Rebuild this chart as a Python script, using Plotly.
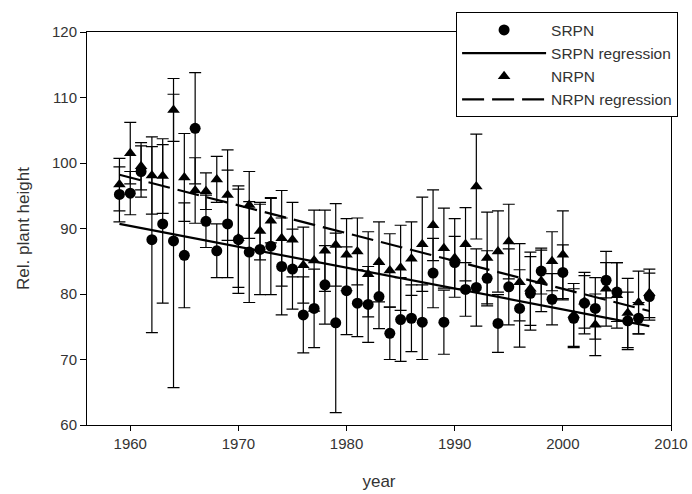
import plotly.graph_objects as go

years = list(range(1959, 2009))

srpn = [95.2, 95.4, 98.7, 88.3, 90.7, 88.1, 85.9, 105.3, 91.1, 86.6,
        90.7, 88.3, 86.4, 86.8, 87.3, 84.2, 83.8, 76.8, 77.8, 81.4,
        75.6, 80.5, 78.6, 78.4, 79.6, 74.0, 76.1, 76.3, 75.7, 83.2,
        75.7, 84.8, 80.7, 81.0, 82.4, 75.5, 81.1, 77.8, 80.1, 83.5,
        79.2, 83.3, 76.3, 78.6, 77.8, 82.1, 80.3, 75.9, 76.3, 79.6]
srpn_err = [4.2, 3.3, 3.9, 14.2, 12.1, 22.4, 8.0, 8.5, 4.0, 4.1,
            8.2, 8.2, 7.7, 6.9, 7.4, 7.4, 6.1, 5.8, 6.0, 6.0,
            13.7, 6.7, 5.1, 5.8, 4.9, 4.0, 6.4, 5.1, 5.7, 5.3,
            4.9, 4.0, 4.1, 5.9, 4.2, 4.4, 5.8, 5.9, 5.6, 3.5,
            3.9, 4.2, 4.5, 4.7, 4.7, 2.7, 4.5, 4.4, 2.4, 3.6]

nrpn = [96.7, 101.5, 99.5, 98.1, 98.0, 108.1, 97.8, 95.8, 95.7, 97.5,
        95.1, 88.5, 93.6, 89.6, 91.2, 88.5, 88.3, 84.4, 85.1, 86.6,
        87.5, 86.0, 86.5, 83.0, 84.9, 83.6, 84.0, 85.4, 87.6, 90.5,
        87.0, 85.5, 87.6, 96.4, 85.5, 86.5, 88.0, 81.8, 80.8, 82.0,
        85.0, 86.0, 76.8, 78.8, 75.3, 80.8, 79.8, 77.1, 78.7, 80.1]
nrpn_err = [4.0, 4.7, 3.6, 5.9, 5.7, 4.8, 6.7, 5.0, 2.8, 3.5,
            6.9, 7.5, 5.1, 4.4, 3.4, 7.3, 5.7, 5.8, 7.7, 6.2,
            6.3, 5.5, 5.1, 6.5, 6.1, 5.6, 6.5, 5.6, 7.2, 5.4,
            6.1, 6.0, 5.6, 8.0, 7.0, 6.2, 5.7, 5.9, 5.6, 4.7,
            4.5, 6.7, 4.8, 4.0, 4.7, 5.7, 5.0, 5.3, 4.8, 3.7]

reg_years = [1959, 2008]
srpn_reg = [90.7, 75.1]
nrpn_reg = [98.2, 77.4]

FONT = "Arial, Liberation Sans, sans-serif"
TXT = "#333333"

fig = go.Figure()
err_style = dict(type="data", thickness=1.2, width=6, color="black")

fig.add_trace(go.Scatter(
    x=years, y=srpn, mode="markers", name="SRPN",
    marker=dict(symbol="circle", size=11, color="black"),
    error_y=dict(array=srpn_err, **err_style), legendrank=1))
fig.add_trace(go.Scatter(
    x=reg_years, y=srpn_reg, mode="lines", name="SRPN regression",
    line=dict(color="black", width=2.2), legendrank=2))
fig.add_trace(go.Scatter(
    x=years, y=nrpn, mode="markers", name="NRPN",
    marker=dict(symbol="triangle-up", size=11, color="black"),
    error_y=dict(array=nrpn_err, **err_style), legendrank=3))
fig.add_trace(go.Scatter(
    x=reg_years, y=nrpn_reg, mode="lines", name="NRPN regression",
    line=dict(color="black", width=2.2, dash="22px,8px"), legendrank=4))

fig.update_layout(
    width=692, height=494,
    margin=dict(l=87, r=21, t=20, b=69),
    paper_bgcolor="white", plot_bgcolor="white",
    font=dict(family=FONT, color=TXT, size=13),
    showlegend=True,
    legend=dict(x=0.632, y=1.05, xanchor="left", yanchor="top",
                bgcolor="white", bordercolor="black", borderwidth=1,
                font=dict(size=15.5, color=TXT), itemwidth=84,
                traceorder="normal"),
    xaxis=dict(range=[1956, 2010], tickvals=[1960, 1970, 1980, 1990, 2000, 2010],
               showline=True, linecolor="black", linewidth=1, mirror=True,
               ticks="outside", ticklen=5, tickcolor="black",
               showgrid=False, zeroline=False, automargin=False,
               tickfont=dict(size=15, color=TXT),
               title=dict(text="year", font=dict(size=17, color=TXT), standoff=24)),
    yaxis=dict(range=[60, 120], tickvals=[60, 70, 80, 90, 100, 110, 120],
               showline=True, linecolor="black", linewidth=1, mirror=True,
               ticks="outside", ticklen=6, tickcolor="black",
               showgrid=False, zeroline=False, automargin=False,
               tickfont=dict(size=15, color=TXT),
               title=dict(text="Rel. plant height", font=dict(size=17, color=TXT), standoff=18)),
)

fig.write_html("out.html")
